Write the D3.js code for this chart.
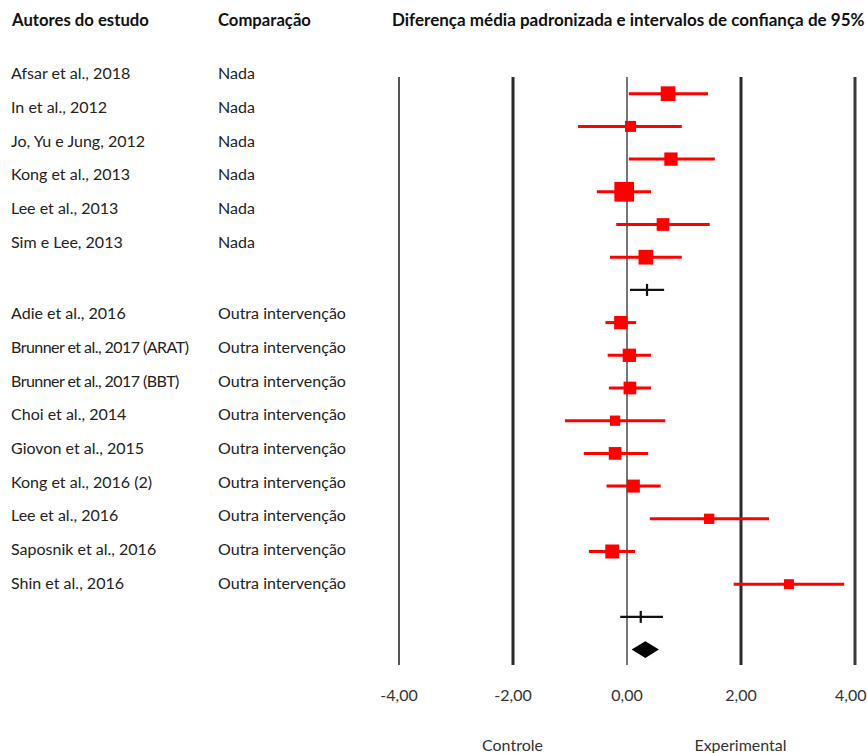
<!DOCTYPE html>
<html><head><meta charset="utf-8">
<script src="https://cdn.jsdelivr.net/npm/d3@7"></script>
<style>body{margin:0;background:#fff}svg{display:block}</style>
</head><body>
<script>
// ---------- data ----------
const headers = ["Autores do estudo", "Comparação", "Diferença média padronizada e intervalos de confiança de 95%"];
const studies = ["Afsar et al., 2018", "In et al., 2012", "Jo, Yu e Jung, 2012", "Kong et al., 2013", "Lee et al., 2013", "Sim e Lee, 2013",
  "Adie et al., 2016", "Brunner et al., 2017 (ARAT)", "Brunner et al., 2017 (BBT)", "Choi et al., 2014", "Giovon et al., 2015",
  "Kong et al., 2016 (2)", "Lee et al., 2016", "Saposnik et al., 2016", "Shin et al., 2016"];
const comparisons = ["Nada", "Nada", "Nada", "Nada", "Nada", "Nada",
  "Outra intervenção", "Outra intervenção", "Outra intervenção", "Outra intervenção", "Outra intervenção",
  "Outra intervenção", "Outra intervenção", "Outra intervenção", "Outra intervenção"];
const smd    = [0.73, 0.07, 0.78, -0.04, 0.64, 0.34, -0.10, 0.05, 0.06, -0.20, -0.20, 0.12, 1.45, -0.25, 2.85];
const ciLow  = [0.04, -0.85, 0.04, -0.52, -0.18, -0.29, -0.37, -0.33, -0.31, -1.08, -0.75, -0.35, 0.41, -0.66, 1.88];
const ciHigh = [1.43, 0.97, 1.55, 0.43, 1.46, 0.97, 0.17, 0.43, 0.43, 0.68, 0.38, 0.60, 2.50, 0.15, 3.82];
const weights = [8.2, 4.6, 6.7, 14.7, 6.1, 8.2, 6.7, 6.7, 6.1, 4.0, 6.1, 6.4, 4.0, 7.4, 3.8];
const groupSize = [6, 9];
const subSmd  = [0.36, 0.25];
const subLow  = [0.06, -0.11];
const subHigh = [0.66, 0.64];
const overall = [0.33, 0.09, 0.57]; // smd, low, high
const tickValues = [-4, -2, 0, 2, 4];
const sideLabels = ["Controle", "Experimental"];
const sideAt = [-2, 2];

// ---------- layout ----------
const W = 867, H = 753;
const svg = d3.select("body").append("svg").attr("width", W).attr("height", H);
const FONT = "Lato, 'Open Sans', sans-serif";

const x = d3.scaleLinear().domain([-4, 4]).range([398.5, 854.5]);
const yPlot = d3.scaleLinear().domain([0, 17]).range([93.7, 649.6]);
const size = d3.scaleSqrt().domain([0, 14.7]).range([0, 19.7]);

const plotRow = [], textRow = [];
let r = 0, t = 0;
groupSize.forEach(n => {
  for (let k = 0; k < n; k++) { plotRow.push(r); textRow.push(t); r++; t++; }
  r++; // subtotal row
});
const subRow = [groupSize[0], groupSize[0] + 1 + groupSize[1]];
const overallRow = subRow[1] + 1;
const yTextRow = i => i < groupSize[0] ? 73.3 + i * 33.7 : 313.3 + (i - groupSize[0]) * 33.67;

const fmt = d3.formatLocale({decimal: ",", thousands: ".", grouping: [3], currency: ["", ""], minus: "-"}).format(".2f");

// headers
const hdrX = [12, 218, 392];
const hdrW = [137, 93, 473];
const hdr = svg.selectAll("text.hdr").data(headers).join("text")
  .attr("class", "hdr").attr("x", (d, i) => hdrX[i]).attr("y", 25.5)
  .attr("font-family", FONT).attr("font-weight", 700).attr("font-size", 16)
  .attr("fill", "#111").text(d => d);
hdr.each(function(d, i) {
  const w = this.getComputedTextLength();
  d3.select(this).attr("font-size", 16 * hdrW[i] / w);
});

// row texts
const labelFont = 15.5;
const rowText = svg.append("g").attr("font-family", FONT).attr("fill", "#222");
const lab = rowText.selectAll("text.study").data(studies).join("text")
  .attr("class", "study").attr("x", 11).attr("y", (d, i) => yTextRow(textRow[i]) + 6)
  .attr("font-size", labelFont).text(d => d);
const comp = rowText.selectAll("text.comp").data(comparisons).join("text")
  .attr("class", "comp").attr("x", 218).attr("y", (d, i) => yTextRow(textRow[i]) + 6)
  .attr("font-size", labelFont).text(d => d);
{
  const w = comp.nodes()[6].getComputedTextLength();
  const fs = labelFont * 128 / w;
  lab.attr("font-size", fs); comp.attr("font-size", fs);
  // the long author labels are set tighter in the reference
  lab.filter(d => d.length > 22).attr("letter-spacing", -0.55);
}

// gridlines / axis
const plotTop = 77, plotBottom = 665;
const axis = d3.axisBottom(x).tickValues(tickValues).tickFormat(fmt)
  .tickSize(-(plotBottom - plotTop)).tickPadding(24.5);
const ax = svg.append("g").attr("transform", `translate(0,${plotBottom})`).call(axis);
ax.select(".domain").remove();
const lineStyle = {"-4": [2, "#555"], "-2": [3, "#2a2a2a"], "0": [2, "#777"], "2": [3, "#2a2a2a"], "4": [3, "#3a3a3a"]};
ax.selectAll(".tick line")
  .attr("stroke-width", d => lineStyle[d][0]).attr("stroke", d => lineStyle[d][1]);
ax.selectAll(".tick text").attr("font-family", FONT).attr("font-size", 16).attr("fill", "#333");
// keep the last label inside the page
ax.selectAll(".tick text").filter(d => d === 4)
  .attr("text-anchor", "end").attr("x", W - 1 - x(4));

// side labels
svg.selectAll("text.side").data(sideLabels).join("text")
  .attr("class", "side").attr("x", (d, i) => x(sideAt[i])).attr("y", 750.5)
  .attr("text-anchor", "middle").attr("font-family", FONT).attr("font-size", 16)
  .attr("fill", "#333").text(d => d);

// study CIs + squares
const studyG = svg.append("g");
studyG.selectAll("line.ci").data(smd).join("line")
  .attr("class", "ci")
  .attr("x1", (d, i) => x(ciLow[i])).attr("x2", (d, i) => x(ciHigh[i]))
  .attr("y1", (d, i) => yPlot(plotRow[i])).attr("y2", (d, i) => yPlot(plotRow[i]))
  .attr("stroke", "#ff0000").attr("stroke-width", 3);
studyG.selectAll("rect.pt").data(smd).join("rect")
  .attr("class", "pt")
  .attr("x", (d, i) => x(d) - size(weights[i]) / 2)
  .attr("y", (d, i) => yPlot(plotRow[i]) - size(weights[i]) / 2)
  .attr("width", (d, i) => size(weights[i])).attr("height", (d, i) => size(weights[i]))
  .attr("fill", "#ff0000");

// subtotals
const subG = svg.append("g").attr("stroke", "#111").attr("stroke-width", 2.2);
subG.selectAll("line.h").data(subSmd).join("line").attr("class", "h")
  .attr("x1", (d, i) => x(subLow[i])).attr("x2", (d, i) => x(subHigh[i]))
  .attr("y1", (d, i) => yPlot(subRow[i])).attr("y2", (d, i) => yPlot(subRow[i]));
subG.selectAll("line.v").data(subSmd).join("line").attr("class", "v")
  .attr("x1", d => x(d)).attr("x2", d => x(d))
  .attr("y1", (d, i) => yPlot(subRow[i]) - 6).attr("y2", (d, i) => yPlot(subRow[i]) + 6);

// overall diamond
const oy = yPlot(overallRow), dh = 8.3;
svg.append("path")
  .attr("d", `M${x(overall[1])},${oy} L${x(overall[0])},${oy - dh} L${x(overall[2])},${oy} L${x(overall[0])},${oy + dh} Z`)
  .attr("fill", "#000");
</script>
</body></html>
